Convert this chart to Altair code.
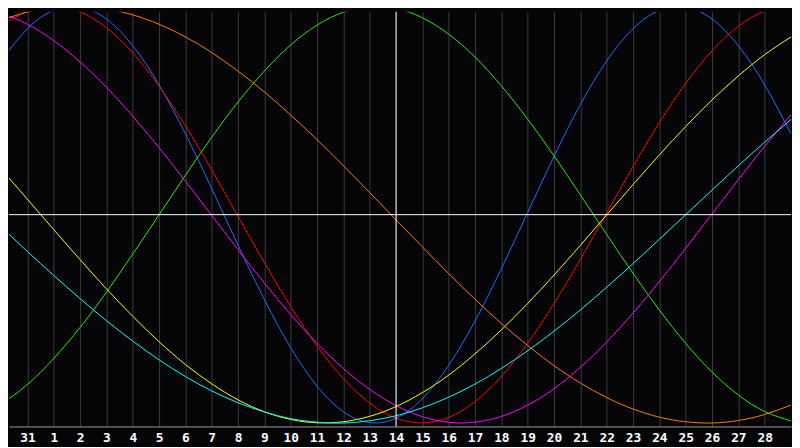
"""Seven-cycle biorhythm chart, 30-day window centred on the 14th."""

import json

import pandas as pd
import altair as alt

# day slots across the window (slot 0 = left edge, slot 30 = right edge)
slots = list(range(31))

# labels under the grid lines at slots 1..29
day_labels = ["31", "1", "2", "3", "4", "5", "6", "7", "8", "9", "10", "11", "12", "13",
              "14", "15", "16", "17", "18", "19", "20", "21", "22", "23", "24", "25", "26",
              "27", "28"]

today_slot = 15

# cycle values at each slot (-1 .. 1)
physical = [0.738, 0.893, 0.981, 0.997, 0.939, 0.811, 0.623, 0.388, 0.125, -0.147,
            -0.408, -0.639, -0.823, -0.946, -0.998, -0.977, -0.883, -0.723, -0.510, -0.259,
            0.011, 0.280, 0.529, 0.738, 0.893, 0.981, 0.997, 0.939, 0.811, 0.623, 0.388]
emotional = [0.905, 0.977, 1.000, 0.973, 0.897, 0.776, 0.616, 0.426, 0.214, -0.009,
             -0.231, -0.442, -0.631, -0.787, -0.905, -0.977, -1.000, -0.973, -0.897, -0.776,
             -0.616, -0.426, -0.214, 0.009, 0.231, 0.442, 0.631, 0.787, 0.905, 0.977, 1.000]
intellectual = [-0.910, -0.815, -0.690, -0.541, -0.372, -0.189, 0.000, 0.189, 0.372, 0.541,
                0.690, 0.815, 0.910, 0.972, 0.999, 0.990, 0.945, 0.866, 0.756, 0.618,
                0.458, 0.282, 0.095, -0.095, -0.282, -0.458, -0.618, -0.756, -0.866, -0.945, -0.990]
intuitive = [0.968, 0.914, 0.835, 0.733, 0.611, 0.472, 0.321, 0.161, -0.004, -0.169,
             -0.329, -0.480, -0.618, -0.739, -0.839, -0.917, -0.970, -0.997, -0.996, -0.968,
             -0.914, -0.835, -0.733, -0.611, -0.472, -0.321, -0.161, 0.004, 0.169, 0.329, 0.480]
aesthetic = [0.219, 0.074, -0.072, -0.216, -0.356, -0.488, -0.610, -0.719, -0.812, -0.889,
             -0.946, -0.983, -0.999, -0.994, -0.968, -0.921, -0.854, -0.770, -0.668, -0.553,
             -0.426, -0.290, -0.147, -0.001, 0.144, 0.287, 0.423, 0.551, 0.666, 0.768, 0.853]
awareness = [0.933, 0.972, 0.994, 1.000, 0.988, 0.959, 0.914, 0.853, 0.778, 0.689,
             0.589, 0.478, 0.360, 0.235, 0.106, -0.025, -0.155, -0.283, -0.406, -0.522,
             -0.628, -0.725, -0.808, -0.878, -0.933, -0.972, -0.994, -1.000, -0.988, -0.959, -0.914]
spiritual = [-0.059, -0.177, -0.292, -0.403, -0.509, -0.607, -0.697, -0.777, -0.846, -0.903,
             -0.947, -0.979, -0.996, -1.000, -0.989, -0.965, -0.927, -0.876, -0.813, -0.738,
             -0.653, -0.559, -0.457, -0.348, -0.235, -0.118, 0.000, 0.118, 0.235, 0.348, 0.457]

cycles = {
    "physical": physical,
    "emotional": emotional,
    "intellectual": intellectual,
    "intuitive": intuitive,
    "aesthetic": aesthetic,
    "awareness": awareness,
    "spiritual": spiritual,
}
cycle_colors = ["#1f6fff", "#ff0000", "#22ee00", "#ff00ff", "#ffff00", "#ff7f00", "#00ffff"]

rows = []
for name, values in cycles.items():
    for slot, value in zip(slots, values):
        rows.append({"cycle": name, "slot": slot, "value": value})
data = pd.DataFrame(rows)

x_scale = alt.Scale(domain=[0.3, 30], nice=False, zero=False)
y_scale = alt.Scale(domain=[-1.0166, 0.974], nice=False, zero=False)

day_axis = alt.Axis(
    values=list(range(1, 30)),
    labelExpr=json.dumps(day_labels) + "[datum.value - 1]",
    grid=True, gridColor="#3c3c3c", gridWidth=1,
    ticks=False, domain=True, domainColor="#999999", domainWidth=1,
    labelColor="white", labelFont="DejaVu Sans Mono", labelFontSize=13,
    labelFontWeight="bold", labelPadding=5, labelOverlap=False, labelFlush=False,
    labelBound=False, title=None)

lines = alt.Chart(data).mark_line(strokeWidth=1, interpolate="natural", clip=True).encode(
    x=alt.X("slot:Q", scale=x_scale, axis=day_axis),
    y=alt.Y("value:Q", scale=y_scale, axis=None),
    color=alt.Color("cycle:N", scale=alt.Scale(domain=list(cycles), range=cycle_colors),
                    legend=None),
    detail="cycle:N",
)

zero_line = alt.Chart(pd.DataFrame({"value": [0]})).mark_rule(
    color="white", strokeWidth=1).encode(y=alt.Y("value:Q", scale=y_scale, axis=None))

today_line = alt.Chart(pd.DataFrame({"slot": [today_slot]})).mark_rule(
    color="white", strokeWidth=1).encode(x=alt.X("slot:Q", scale=x_scale, axis=day_axis))

chart = alt.layer(lines, zero_line, today_line).properties(
    width=792, height=420, padding=0, background="#050508",
).configure_view(
    stroke=None
).configure_axis(
    labelOverlap=False
)

chart.save("out.html", embed_options={"renderer": "svg", "actions": False})
